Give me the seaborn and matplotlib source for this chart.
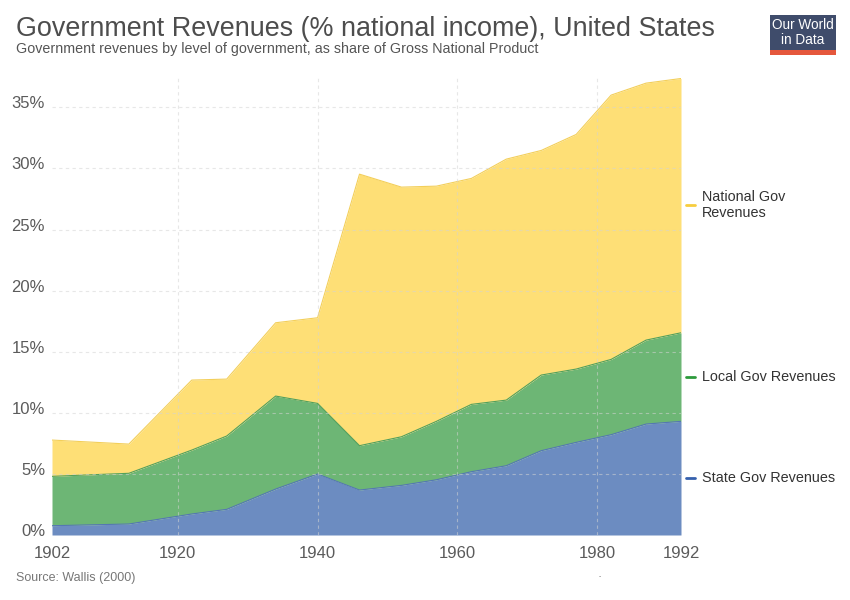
import numpy as np
import pandas as pd
import matplotlib.pyplot as plt
import matplotlib.transforms as mtransforms
from matplotlib.lines import Line2D
from matplotlib.patches import Rectangle
import seaborn as sns


years = [1902, 1913, 1922, 1927, 1934, 1940, 1946, 1952, 1957, 1962, 1967, 1972, 1977, 1982, 1987, 1992]
state_gov = [0.76, 0.90, 1.72, 2.10, 3.76, 4.99, 3.68, 4.06, 4.52, 5.18, 5.67, 6.90, 7.58, 8.21, 9.08, 9.30]
local_gov = [4.04, 4.15, 5.23, 6.00, 7.61, 5.78, 3.63, 3.98, 4.78, 5.51, 5.37, 6.19, 6.00, 6.16, 6.87, 7.25]
national_gov = [2.97, 2.39, 5.73, 4.66, 6.00, 7.01, 22.22, 20.43, 19.25, 18.49, 19.72, 18.38, 19.20, 21.63, 21.03, 20.81]

x_ticks = [1902, 1920, 1940, 1960, 1980, 1992]
x_grid = [1920, 1940, 1960, 1980]
y_ticks = [0, 5, 10, 15, 20, 25, 30, 35]

sns.set_theme(style='white')
plt.rcParams['font.family'] = ['Liberation Sans', 'DejaVu Sans']

df = pd.DataFrame({'year': years, 'state': state_gov, 'local': local_gov, 'national': national_gov})
df['state_top'] = df['state']
df['local_top'] = df['state_top'] + df['local']
df['national_top'] = df['local_top'] + df['national']

W, H = 850, 600
fig = plt.figure(figsize=(W / 100, H / 100), dpi=100)
ax = fig.add_axes([52 / W, 1 - 535 / H, (681 - 52) / W, (535 - 78) / H])

# (label, lower, upper, fill, edge, legend colour, legend y in px)
layers = [
    ('State Gov Revenues', None, 'state_top', '#6c8cc1', '#5577b3', '#3560ad', [478]),
    ('Local Gov Revenues', 'state_top', 'local_top', '#6db675', '#52a05c', '#2d9a3c', [377]),
    ('National Gov\nRevenues', 'local_top', 'national_top', '#fedf76', '#f3cf5a', '#f7cd3e', [205]),
]

for label, lo, hi, fill, edge, lc, ly in layers:
    lower = np.zeros(len(df)) if lo is None else df[lo]
    ax.fill_between(df['year'], lower, df[hi], color=fill, lw=0, zorder=2)
for label, lo, hi, fill, edge, lc, ly in layers:
    sns.lineplot(x=df['year'], y=df[hi], color=edge, lw=0.8, ax=ax, zorder=3)

ax.set_xlim(1902, 1992)
ax.set_ylim(0, 37.4)
ax.set_xticks(x_ticks)
ax.set_yticks(y_ticks)
ax.set_yticklabels([f'{v}%' for v in y_ticks])
ax.set_xlabel('')
ax.set_ylabel('')
for s in ax.spines.values():
    s.set_visible(False)

# dashed grid, faint over the areas
grid_kw = dict(color='#d4d4d4', linestyle=(0, (3, 3)), lw=0.8, alpha=0.55, zorder=4)
for v in y_ticks[1:]:
    ax.axhline(v, **grid_kw)
for v in x_grid:
    ax.axvline(v, **grid_kw)

ax.tick_params(axis='x', length=0, pad=8, labelsize=12, labelcolor='#5b5b5b')
ax.tick_params(axis='y', length=0, pad=5, labelsize=12, labelcolor='#5b5b5b')

shift = mtransforms.ScaledTranslation(0, 5 / 100, fig.dpi_scale_trans)
for lbl in ax.get_yticklabels():
    lbl.set_transform(lbl.get_transform() + shift)

# legend on the right
for label, lo, hi, fill, edge, lc, ly in layers:
    y = 1 - ly[0] / H
    fig.add_artist(Line2D([686 / W, 695 / W], [y, y], color=lc, lw=2, transform=fig.transFigure))
    fig.text(702 / W, y, label, fontsize=10.4, color='#333333', va='center', ha='left',
             linespacing=1.2)

fig.text(16 / W, 1 - 36.5 / H, 'Government Revenues (% national income), United States',
         fontsize=19.4, color='#4d4d4d', va='baseline', ha='left')
fig.text(16 / W, 1 - 53.5 / H, 'Government revenues by level of government, as share of Gross National Product',
         fontsize=10.3, color='#555555', va='baseline', ha='left')
fig.text(16 / W, 1 - 578 / H, 'Source: Wallis (2000)', fontsize=9, color='#777777',
         va='center', ha='left')
fig.text(600 / W, 1 - 577 / H, '·', fontsize=9, color='#777777', va='center', ha='center')

# logo
fig.add_artist(Rectangle((770 / W, 1 - 55 / H), 66 / W, 40 / H, color='#3f4c6b',
                         transform=fig.transFigure, lw=0))
fig.add_artist(Rectangle((770 / W, 1 - 55 / H), 66 / W, 5.5 / H, color='#e5573c',
                         transform=fig.transFigure, lw=0))
fig.text(803 / W, 1 - 25 / H, 'Our World', fontsize=9.8, color='white', va='center', ha='center')
fig.text(803 / W, 1 - 40 / H, 'in Data', fontsize=9.8, color='white', va='center', ha='center')

fig.savefig('out.png', dpi=100)
